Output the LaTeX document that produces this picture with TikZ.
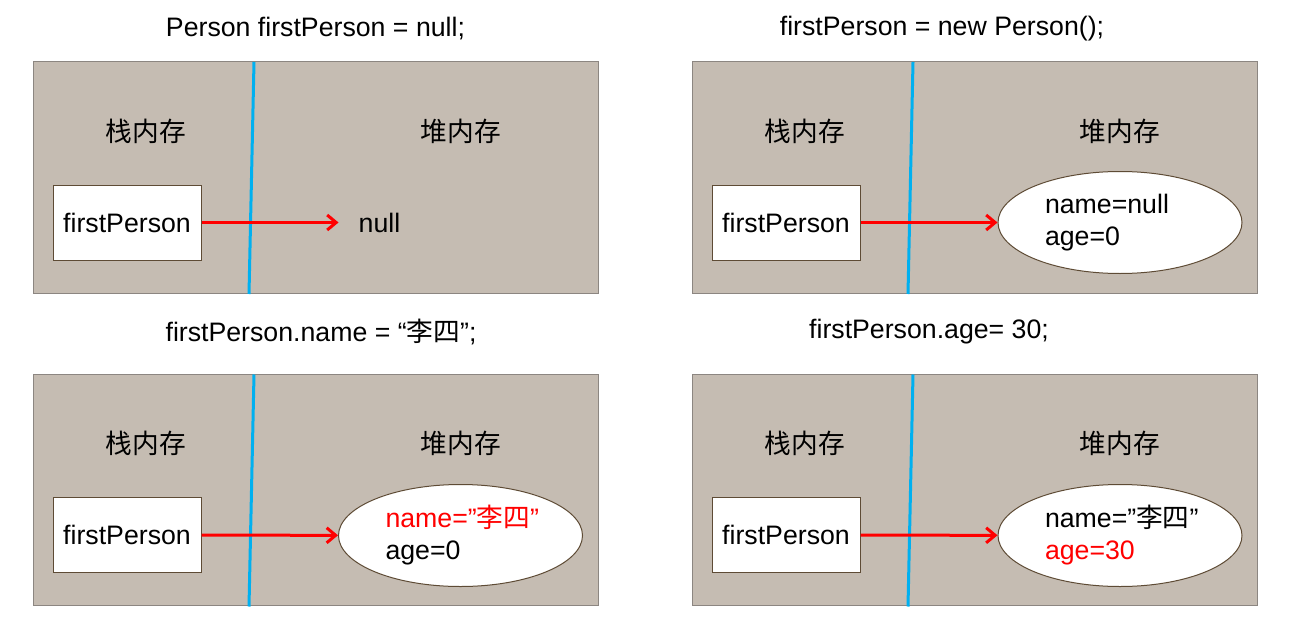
\documentclass[tikz,border=0pt]{standalone}
\usepackage{fontspec}
\setmainfont{Liberation Sans}
\newfontfamily\cjk{Noto Sans CJK SC}
\usetikzlibrary{arrows.meta,shapes.geometric}

\definecolor{memfill}{HTML}{C5BCB2}
\definecolor{memline}{HTML}{8C8681}
\definecolor{divblue}{HTML}{00B0F0}
\definecolor{objline}{HTML}{5E4B35}
\definecolor{refred}{HTML}{FF0000}

\begin{document}
\begin{tikzpicture}[x=1pt, y=-1pt, >={Straight Barb[length=9pt, width=15pt]},
                font=\fontsize{26.7}{32}\selectfont,
                memory/.style={rectangle, draw=memline, fill=memfill, line width=1pt, minimum width=565pt, minimum height=231pt, inner sep=0pt},
                divider/.style={draw=divblue, line width=3pt},
                refbox/.style={rectangle, draw=objline, fill=white, line width=1pt, minimum width=148pt, minimum height=75pt},
                object/.style={ellipse, draw=objline, fill=white, line width=1pt, minimum width=244pt, minimum height=102pt, inner sep=0pt, text width=150pt, align=left},
                ref/.style={->, draw=refred, line width=3pt}
            ]

            \useasboundingbox (0,0) rectangle (1298,623);

            % Memory panels: stack | heap
            \foreach \n/\dx/\dy in {1/0/0, 2/659/0, 3/0/312.5, 4/659/312.5} {
                \begin{scope}[shift={(\dx,\dy)}]
                    \node[memory] (mem\n) at (315.5,177.5) {};
                    \draw[divider] (254,62) -- (249,294);
                    \node (stack\n) at (146,131) {\cjk 栈内存};
                    \node (heap\n) at (461,131) {\cjk 堆内存};
                    \node[refbox] (box\n) at (127,222.5) {firstPerson};
                \end{scope}
            }

            % Statements
            \node (title1) at (315.5,29) {Person firstPerson = null;};
            \node (title2) at (942,29) {firstPerson = new Person();};
            \node (title3) at (321,332) {firstPerson.name = “{\cjk 李四}”;};
            \node (title4) at (929,332) {firstPerson.age= 30;};

            % Heap contents
            \node[inner xsep=20pt] (null1) at (379.5,222.5) {null};
            \node[object] (obj2) at (1120,222.5) {name=null\\age=0};
            \node[object] (obj3) at (460.5,535.5) {\textcolor{refred}{name=”{\cjk 李四}”}\\age=0};
            \node[object] (obj4) at (1120,535.5) {name=”{\cjk 李四}”\\\textcolor{refred}{age=30}};

            % References
            \draw[ref] (box1) -- (null1);
            \draw[ref] (box2) -- (obj2);
            \draw[ref] (box3) -- (obj3);
            \draw[ref] (box4) -- (obj4);

        \end{tikzpicture}
\end{document}
